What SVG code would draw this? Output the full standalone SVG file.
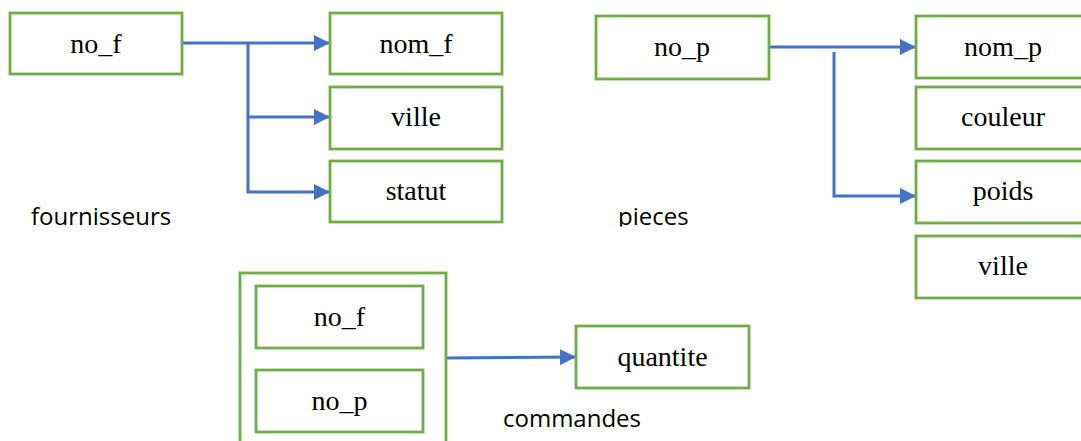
<svg xmlns="http://www.w3.org/2000/svg" width="1081" height="441" viewBox="0 0 1081 441">
<style>
.box{fill:#fff;stroke:#70AD47;stroke-width:2.8}
.lbl{font-family:"Liberation Serif","Times New Roman",serif;font-size:28px;fill:#000;text-anchor:middle}
.cap{font-family:"Open Sans","Noto Sans",sans-serif;font-size:24px;fill:#000}
.con{fill:none;stroke:#4472C4;stroke-width:3;marker-end:url(#arr)}
</style>
<defs>
<marker id="arr" markerUnits="userSpaceOnUse" markerWidth="16" markerHeight="16" refX="16" refY="8" orient="auto">
<path d="M0,0 L16,8 L0,16 z" fill="#4472C4"/>
</marker>
<clipPath id="clipPieces"><rect x="600" y="195" width="120" height="31.5"/></clipPath>
</defs>
<rect width="1081" height="441" fill="#fff"/>
<g id="connectors">
<path class="con" d="M182,43 H330"/>
<path class="con" d="M248,43 V192 H330"/>
<path class="con" d="M248,117 H330"/>
<path class="con" d="M769,47 H916"/>
<path class="con" d="M834,52 V196 H916"/>
<path class="con" d="M446,358 L576,357"/>
</g>
<g id="fournisseurs">
<g id="f_no_f"><rect class="box" x="10" y="13" width="172" height="61"/><text class="lbl" x="96" y="53">no_f</text></g>
<g id="f_nom_f"><rect class="box" x="330" y="13" width="172" height="61"/><text class="lbl" x="416" y="53">nom_f</text></g>
<g id="f_ville"><rect class="box" x="330" y="87" width="172" height="62"/><text class="lbl" x="416" y="126">ville</text></g>
<g id="f_statut"><rect class="box" x="330" y="161" width="172" height="61"/><text class="lbl" x="416" y="200">statut</text></g>
<text class="cap" x="31" y="225">fournisseurs</text>
</g>
<g id="pieces">
<g id="p_no_p"><rect class="box" x="596" y="16" width="173" height="63"/><text class="lbl" x="682" y="56">no_p</text></g>
<g id="p_nom_p"><rect class="box" x="916" y="16" width="174" height="62"/><text class="lbl" x="1003" y="56">nom_p</text></g>
<g id="p_couleur"><rect class="box" x="916" y="87" width="174" height="62"/><text class="lbl" x="1003" y="126">couleur</text></g>
<g id="p_poids"><rect class="box" x="916" y="161" width="174" height="62"/><text class="lbl" x="1003" y="200">poids</text></g>
<g id="p_ville"><rect class="box" x="916" y="236" width="174" height="62"/><text class="lbl" x="1003" y="275">ville</text></g>
<text class="cap" x="618" y="225" clip-path="url(#clipPieces)">pieces</text>
</g>
<g id="commandes">
<rect id="c_key" class="box" x="240" y="273" width="206" height="200"/>
<g id="c_no_f"><rect class="box" x="256" y="286" width="167" height="62"/><text class="lbl" x="339.5" y="326">no_f</text></g>
<g id="c_no_p"><rect class="box" x="256" y="370" width="167" height="62"/><text class="lbl" x="339.5" y="410">no_p</text></g>
<g id="c_quantite"><rect class="box" x="576" y="326" width="173" height="62"/><text class="lbl" x="662.5" y="366">quantite</text></g>
<text class="cap" x="503" y="427">commandes</text>
</g>
</svg>
